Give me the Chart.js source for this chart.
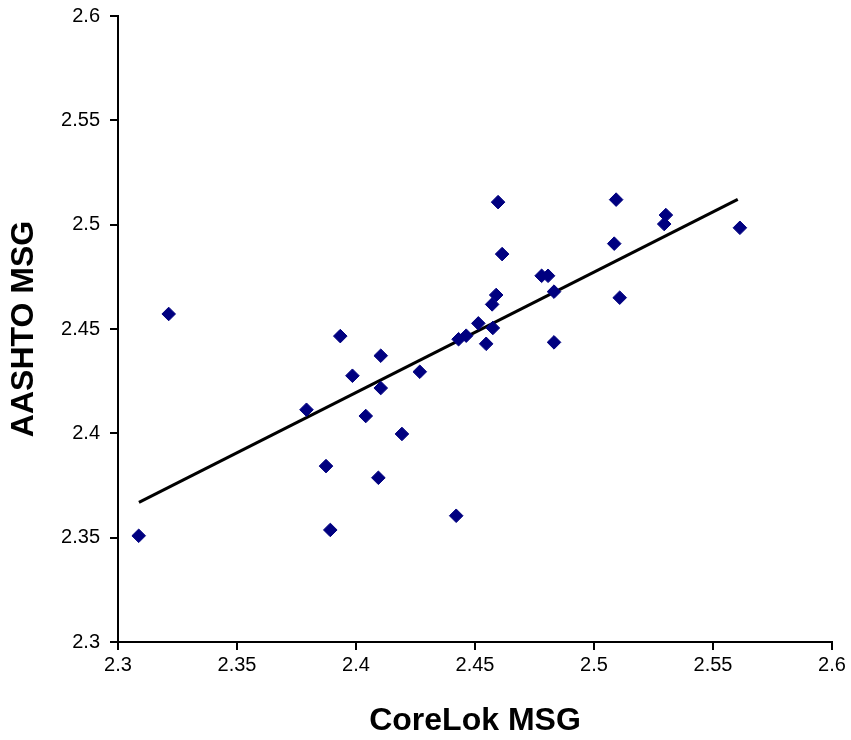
<!DOCTYPE html>
<html>
<head>
<meta charset="utf-8">
<script src="https://cdn.jsdelivr.net/npm/chart.js@4/dist/chart.umd.min.js"></script>
<style>
  html, body { margin: 0; padding: 0; background: #fff; }
  #wrap { width: 851px; height: 740px; }
</style>
</head>
<body>
<div id="wrap"><canvas id="chart"></canvas></div>
<script>
// CoreLok vs AASHTO maximum specific gravity
const coreLok = [2.3087, 2.3213, 2.3792, 2.3874, 2.3892, 2.3934, 2.3985, 2.4041, 2.4094, 2.4104,
                 2.4104, 2.4193, 2.4268, 2.4421, 2.4431, 2.4463, 2.4514, 2.4547, 2.4575, 2.4572,
                 2.4589, 2.4597, 2.4614, 2.4780, 2.4807, 2.4832, 2.4832, 2.5085, 2.5093, 2.5108,
                 2.5295, 2.5302, 2.5613];
const aashto  = [2.3509, 2.4572, 2.4113, 2.3843, 2.3537, 2.4466, 2.4276, 2.4083, 2.3787, 2.4372,
                 2.4217, 2.3997, 2.4295, 2.3605, 2.4451, 2.4468, 2.4527, 2.4429, 2.4505, 2.4618,
                 2.4663, 2.5108, 2.4859, 2.4755, 2.4755, 2.4679, 2.4436, 2.4909, 2.5120, 2.4650,
                 2.5003, 2.5046, 2.4985];

// trend line end points
const trendX = [2.3088, 2.5604];
const trendY = [2.3669, 2.5121];

const axisTicks = [2.3, 2.35, 2.4, 2.45, 2.5, 2.55, 2.6];

const points = coreLok.map((x, i) => ({ x: x, y: aashto[i] }));
const trend = trendX.map((x, i) => ({ x: x, y: trendY[i] }));

function axisOpts(title, isY) {
    return {
        type: 'linear',
        min: axisTicks[0],
        max: axisTicks[axisTicks.length - 1],
        afterBuildTicks: scale => { scale.ticks = axisTicks.map(v => ({ value: v })); },
        ticks: {
            color: '#000',
            font: { family: 'Liberation Sans, Arial, sans-serif', size: 20 },
            padding: isY ? 10 : 3,
            maxRotation: 0,
            autoSkip: false,
            callback: v => String(parseFloat(Number(v).toFixed(2)))
        },
        grid: {
            drawOnChartArea: false,
            drawTicks: true,
            tickLength: 8,
            color: '#000',
            lineWidth: 2
        },
        border: { display: true, color: '#000', width: 2 },
        title: {
            display: true,
            text: title,
            color: '#000',
            font: { family: 'Liberation Sans, Arial, sans-serif', size: 32, weight: 'bold' },
            padding: isY ? { top: 5, bottom: 0 } : { top: 0, bottom: 0 }
        },
        afterFit: scale => {
            if (isY) {
                scale.width = 118;
                scale.paddingTop = 0;
                scale.paddingBottom = 0;
            } else {
                scale.height = 98;
            }
        }
    };
}

new Chart(document.getElementById('chart'), {
    type: 'scatter',
    data: {
        datasets: [
            {
                label: 'Data',
                data: points,
                pointStyle: 'rectRot',
                pointRadius: 6.8,
                pointHoverRadius: 6.8,
                backgroundColor: '#000080',
                borderColor: '#000080',
                borderWidth: 1
            },
            {
                label: 'Trend',
                type: 'line',
                data: trend,
                borderColor: '#000',
                borderWidth: 3,
                pointRadius: 0,
                fill: false
            }
        ]
    },
    options: {
        responsive: true,
        maintainAspectRatio: false,
        devicePixelRatio: 1,
        animation: false,
        layout: { padding: { top: 16, right: 19, left: 0, bottom: 0 } },
        plugins: {
            legend: { display: false },
            tooltip: { enabled: false }
        },
        scales: {
            x: axisOpts('CoreLok MSG', false),
            y: axisOpts('AASHTO MSG', true)
        }
    }
});
</script>
</body>
</html>
